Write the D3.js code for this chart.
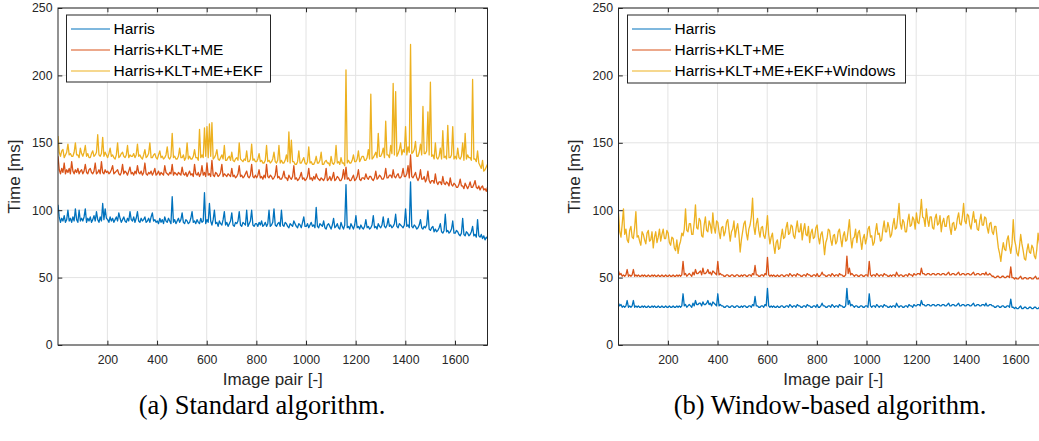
<!DOCTYPE html>
<html>
<head>
<meta charset="utf-8">
<script src="https://cdn.jsdelivr.net/npm/d3@7"></script>
<style>
  body { margin: 0; background: #fff; }
  svg { display: block; }
</style>
</head>
<body>
<svg id="fig" width="1039" height="441"></svg>
<script>
// Image pair index for every sample (one sample every 5 pairs)
const pairIndex = d3.range(347).map(i => 1 + 5 * i);
const xTicks = [200, 400, 600, 800, 1000, 1200, 1400, 1600];
const yTicks = [0, 50, 100, 150, 200, 250];

// (a) Standard algorithm, processing time per image pair [ms]
const stdHarris = [
  104, 95, 91, 94, 92, 96, 91, 93, 100, 92, 94, 91, 95, 92, 101, 93, 91, 100, 92, 94,
  92, 95, 101, 91, 94, 92, 95, 91, 93, 96, 92, 99, 93, 91, 95, 92, 105, 93, 101, 94,
  93, 91, 95, 92, 94, 91, 93, 95, 92, 98, 94, 91, 93, 95, 92, 91, 94, 92, 99, 93,
  92, 95, 91, 94, 99, 92, 91, 94, 92, 93, 95, 91, 92, 94, 91, 95, 98, 92, 93, 91,
  92, 90, 94, 91, 93, 90, 95, 92, 91, 94, 92, 90, 110, 91, 93, 90, 92, 94, 91, 93,
  98, 91, 90, 93, 92, 90, 91, 94, 99, 91, 92, 90, 93, 91, 90, 94, 91, 92, 113, 90,
  93, 91, 105, 92, 89, 93, 100, 90, 91, 88, 92, 90, 89, 93, 99, 89, 91, 88, 90, 92,
  98, 89, 88, 91, 90, 92, 99, 89, 88, 91, 90, 89, 100, 88, 90, 92, 100, 89, 88, 90,
  90, 88, 91, 89, 92, 88, 89, 91, 88, 90, 100, 88, 89, 91, 101, 89, 88, 90, 91, 88,
  100, 89, 88, 91, 90, 88, 87, 90, 89, 88, 92, 90, 88, 87, 90, 89, 87, 91, 95, 88,
  88, 90, 87, 89, 91, 88, 89, 87, 102, 88, 87, 90, 89, 88, 92, 87, 86, 89, 90, 88,
  86, 89, 94, 87, 88, 90, 87, 86, 91, 88, 86, 89, 119, 87, 88, 86, 90, 88, 86, 89,
  96, 87, 88, 86, 89, 87, 86, 88, 93, 87, 88, 86, 87, 89, 96, 87, 88, 86, 90, 88,
  87, 89, 95, 88, 87, 89, 94, 88, 89, 87, 88, 90, 97, 88, 87, 90, 89, 88, 87, 89,
  101, 88, 89, 87, 121, 88, 87, 89, 88, 86, 87, 89, 93, 87, 86, 88, 87, 89, 100, 86,
  85, 87, 88, 84, 86, 84, 85, 87, 90, 84, 83, 85, 97, 84, 85, 83, 84, 86, 92, 83,
  83, 85, 84, 82, 81, 83, 94, 82, 81, 84, 83, 81, 82, 84, 88, 81, 82, 80, 93, 81,
  80, 82, 79, 81, 78, 80, 79
];
const stdKltMe = [
  140, 130, 127, 131, 128, 135, 127, 130, 128, 131, 127, 136, 129, 127, 130, 128, 131, 127, 129, 130,
  127, 129, 134, 128, 127, 130, 131, 128, 127, 129, 135, 127, 128, 130, 127, 136, 128, 127, 130, 128,
  129, 127, 128, 130, 133, 127, 128, 129, 130, 127, 126, 128, 134, 127, 129, 128, 126, 129, 132, 127,
  128, 126, 129, 127, 133, 128, 127, 129, 126, 128, 135, 127, 126, 128, 127, 129, 126, 128, 131, 126,
  127, 129, 126, 128, 127, 126, 133, 128, 127, 126, 128, 127, 134, 126, 128, 127, 126, 128, 127, 126,
  132, 127, 126, 128, 125, 127, 129, 126, 127, 125, 134, 127, 126, 128, 125, 127, 133, 126, 128, 125,
  135, 126, 127, 125, 137, 126, 125, 128, 127, 125, 126, 128, 134, 125, 127, 126, 125, 127, 126, 125,
  131, 125, 126, 124, 125, 127, 133, 125, 126, 124, 125, 127, 129, 125, 124, 126, 134, 125, 124, 126,
  124, 126, 130, 124, 125, 123, 126, 124, 134, 125, 124, 126, 125, 123, 124, 126, 133, 124, 125, 123,
  123, 125, 129, 124, 124, 122, 126, 124, 123, 125, 133, 123, 124, 122, 123, 125, 128, 123, 124, 122,
  123, 125, 131, 123, 124, 122, 125, 123, 127, 124, 123, 122, 124, 123, 122, 124, 131, 122, 123, 125,
  122, 124, 128, 122, 123, 125, 124, 122, 122, 124, 130, 123, 132, 123, 124, 122, 122, 124, 126, 122,
  123, 125, 130, 123, 122, 124, 124, 123, 127, 124, 123, 125, 125, 123, 122, 124, 129, 123, 124, 126,
  125, 123, 123, 125, 131, 124, 124, 126, 126, 124, 130, 125, 124, 126, 127, 124, 124, 126, 131, 125,
  125, 127, 133, 124, 141, 125, 124, 126, 128, 124, 122, 124, 130, 123, 123, 125, 121, 123, 129, 122,
  120, 122, 122, 120, 127, 121, 119, 121, 121, 119, 125, 120, 119, 121, 120, 118, 124, 119, 118, 120,
  119, 117, 117, 119, 123, 118, 118, 116, 120, 118, 116, 118, 121, 117, 117, 119, 122, 117, 116, 118,
  115, 117, 118, 115, 116, 114, 117
];
const stdKltMeEkf = [
  155, 143, 140, 144, 145, 139, 141, 143, 149, 141, 142, 140, 140, 143, 150, 141, 141, 139, 146, 142,
  140, 143, 148, 140, 142, 139, 139, 142, 144, 140, 141, 143, 156, 141, 140, 142, 154, 140, 143, 141,
  139, 142, 146, 140, 141, 139, 138, 141, 150, 139, 140, 142, 143, 140, 139, 141, 148, 139, 141, 140,
  140, 142, 139, 141, 149, 140, 141, 139, 138, 141, 145, 139, 140, 142, 150, 139, 139, 141, 142, 139,
  138, 141, 144, 139, 140, 138, 139, 141, 147, 139, 138, 140, 157, 139, 140, 138, 138, 140, 146, 139,
  139, 141, 137, 139, 150, 138, 140, 138, 138, 140, 145, 139, 139, 137, 160, 139, 141, 139, 161, 140,
  162, 139, 164, 140, 165, 138, 139, 141, 145, 138, 137, 139, 141, 138, 148, 137, 137, 139, 140, 137,
  143, 137, 136, 138, 139, 137, 150, 138, 137, 136, 138, 137, 144, 136, 136, 138, 149, 137, 138, 136,
  136, 138, 142, 136, 137, 135, 135, 137, 148, 136, 137, 135, 136, 138, 143, 136, 135, 137, 148, 135,
  137, 135, 135, 137, 141, 136, 158, 135, 152, 136, 136, 134, 134, 136, 144, 135, 135, 137, 139, 135,
  134, 136, 147, 135, 136, 134, 134, 136, 140, 135, 135, 137, 143, 134, 134, 136, 137, 135, 135, 133,
  140, 135, 134, 136, 148, 135, 136, 134, 139, 135, 135, 133, 204, 135, 137, 135, 135, 137, 141, 136,
  136, 138, 144, 136, 138, 140, 140, 137, 137, 139, 145, 138, 186, 138, 139, 141, 143, 139, 157, 140,
  140, 142, 146, 139, 166, 141, 141, 139, 148, 142, 194, 141, 188, 140, 142, 145, 150, 141, 145, 143,
  162, 141, 147, 143, 223, 142, 143, 145, 151, 140, 140, 143, 149, 141, 177, 142, 142, 144, 173, 141,
  195, 140, 141, 138, 150, 139, 138, 140, 146, 138, 159, 139, 140, 138, 163, 139, 139, 141, 162, 138,
  140, 138, 146, 139, 138, 140, 150, 137, 157, 138, 141, 139, 139, 137, 197, 138, 138, 136, 144, 135,
  133, 131, 137, 129, 130, 132, 134
];

// (b) Window-based algorithm, processing time per image pair [ms]
const winHarris = [
  31, 29, 30, 28, 29, 28, 29, 33, 28, 29, 28, 29, 33, 28, 29, 28, 29, 28, 28, 29,
  28, 29, 28, 28, 29, 28, 28, 29, 28, 29, 28, 28, 29, 28, 28, 29, 28, 28, 29, 28,
  28, 29, 28, 28, 29, 28, 28, 29, 28, 29, 28, 29, 38, 29, 30, 28, 29, 30, 29, 28,
  31, 29, 33, 30, 30, 31, 31, 29, 32, 30, 30, 31, 33, 30, 31, 29, 32, 31, 30, 29,
  38, 29, 30, 29, 29, 28, 28, 29, 29, 28, 28, 29, 29, 28, 28, 29, 29, 28, 28, 29,
  28, 29, 29, 28, 28, 29, 29, 28, 30, 29, 36, 29, 29, 28, 28, 29, 29, 28, 30, 29,
  42, 29, 28, 29, 28, 29, 28, 28, 29, 28, 28, 29, 29, 28, 28, 29, 29, 28, 30, 29,
  28, 29, 29, 28, 30, 29, 29, 28, 28, 29, 29, 28, 30, 29, 29, 28, 28, 29, 29, 28,
  30, 28, 28, 29, 31, 29, 29, 28, 28, 29, 29, 28, 30, 29, 28, 29, 29, 28, 30, 29,
  29, 28, 28, 29, 42, 30, 33, 29, 30, 29, 28, 29, 29, 28, 28, 29, 29, 28, 28, 29,
  29, 28, 38, 29, 28, 29, 29, 28, 30, 29, 28, 29, 29, 28, 30, 29, 29, 28, 28, 29,
  28, 29, 29, 28, 31, 29, 28, 29, 29, 28, 28, 29, 29, 28, 30, 29, 29, 28, 30, 29,
  29, 30, 30, 29, 33, 30, 30, 29, 29, 30, 30, 29, 29, 30, 30, 29, 29, 30, 30, 29,
  29, 30, 30, 29, 29, 30, 31, 29, 29, 30, 30, 29, 29, 30, 31, 29, 29, 30, 30, 29,
  29, 30, 30, 29, 29, 30, 31, 29, 29, 30, 30, 29, 29, 30, 30, 29, 31, 29, 29, 30,
  30, 29, 29, 28, 28, 29, 29, 28, 28, 29, 29, 28, 28, 29, 29, 28, 34, 28, 28, 27,
  28, 27, 27, 28, 29, 27, 27, 28, 28, 27, 27, 28, 28, 27, 27, 28, 28, 27, 27, 28,
  28, 27, 27, 28, 28, 27, 27
];
const winKltMe = [
  55, 52, 53, 51, 52, 51, 52, 56, 51, 52, 51, 52, 56, 51, 52, 51, 52, 51, 51, 52,
  51, 52, 51, 51, 52, 51, 51, 52, 51, 52, 51, 51, 52, 51, 51, 52, 51, 51, 52, 51,
  51, 52, 51, 51, 52, 51, 51, 52, 51, 52, 51, 52, 62, 52, 53, 51, 52, 53, 52, 51,
  54, 52, 56, 53, 53, 54, 55, 52, 57, 53, 53, 54, 56, 53, 54, 52, 55, 54, 53, 52,
  62, 52, 53, 52, 52, 51, 51, 52, 52, 51, 51, 52, 52, 51, 51, 52, 52, 51, 51, 52,
  51, 52, 52, 51, 51, 52, 52, 51, 53, 52, 59, 52, 52, 51, 51, 52, 52, 51, 53, 52,
  65, 52, 51, 52, 51, 52, 51, 51, 52, 51, 51, 52, 52, 51, 51, 52, 52, 51, 53, 52,
  51, 52, 52, 51, 53, 52, 52, 51, 51, 52, 52, 51, 53, 52, 52, 51, 51, 52, 52, 51,
  53, 51, 51, 52, 54, 52, 52, 51, 51, 52, 52, 51, 53, 52, 51, 52, 52, 51, 53, 52,
  52, 51, 51, 52, 66, 53, 57, 52, 53, 52, 51, 52, 52, 51, 51, 52, 52, 51, 51, 52,
  52, 51, 62, 52, 51, 52, 52, 51, 53, 52, 51, 52, 52, 51, 53, 52, 52, 51, 51, 52,
  51, 52, 52, 51, 54, 52, 51, 52, 52, 51, 51, 52, 52, 51, 53, 52, 52, 51, 53, 52,
  52, 53, 53, 52, 57, 53, 53, 52, 52, 53, 53, 52, 52, 53, 53, 52, 52, 53, 53, 52,
  52, 53, 53, 52, 52, 53, 54, 52, 52, 53, 53, 52, 52, 53, 54, 52, 52, 53, 53, 52,
  52, 53, 53, 52, 52, 53, 54, 52, 52, 53, 53, 52, 52, 53, 53, 52, 54, 52, 52, 53,
  52, 51, 51, 50, 50, 51, 51, 50, 50, 51, 51, 50, 50, 51, 51, 50, 58, 50, 50, 49,
  50, 49, 49, 50, 51, 49, 49, 50, 50, 49, 49, 50, 50, 49, 49, 50, 51, 49, 49, 50,
  50, 49, 49, 50, 50, 49, 49
];
const winKltMeEkf = [
  98, 84, 80, 90, 101, 82, 86, 78, 76, 85, 88, 80, 79, 87, 99, 80, 81, 77, 74, 84,
  82, 78, 75, 83, 85, 77, 78, 84, 72, 80, 84, 76, 80, 86, 77, 82, 86, 79, 79, 85,
  83, 76, 74, 80, 79, 72, 70, 78, 68, 74, 77, 83, 81, 86, 101, 85, 84, 90, 90, 82,
  82, 91, 104, 87, 86, 94, 92, 81, 80, 89, 95, 85, 84, 92, 89, 83, 98, 87, 83, 92,
  91, 84, 79, 87, 88, 81, 84, 91, 93, 85, 77, 84, 86, 92, 80, 86, 90, 82, 69, 78,
  84, 90, 92, 83, 78, 86, 89, 95, 109, 88, 82, 90, 94, 85, 80, 87, 88, 81, 79, 86,
  96, 82, 75, 80, 83, 74, 68, 76, 78, 71, 72, 80, 86, 79, 80, 87, 91, 82, 83, 89,
  88, 81, 79, 86, 92, 84, 84, 90, 78, 85, 90, 82, 81, 88, 76, 83, 86, 79, 80, 87,
  89, 80, 75, 82, 84, 77, 67, 76, 79, 86, 85, 78, 74, 81, 82, 75, 77, 84, 86, 79,
  73, 81, 84, 77, 78, 85, 93, 80, 72, 79, 80, 86, 76, 83, 85, 78, 71, 79, 82, 75,
  79, 86, 88, 80, 81, 74, 76, 84, 90, 82, 83, 77, 78, 86, 92, 84, 84, 91, 87, 80,
  82, 89, 94, 86, 87, 95, 105, 90, 86, 93, 91, 84, 84, 92, 97, 88, 89, 95, 93, 86,
  98, 91, 90, 97, 108, 95, 94, 88, 101, 93, 88, 95, 95, 87, 86, 94, 97, 89, 90, 96,
  84, 91, 94, 88, 88, 95, 96, 87, 82, 90, 91, 85, 87, 94, 98, 90, 89, 95, 105, 92,
  90, 97, 96, 89, 86, 93, 99, 91, 93, 86, 85, 92, 97, 89, 89, 95, 94, 87, 83, 90,
  91, 84, 82, 88, 88, 80, 72, 68, 62, 70, 76, 71, 70, 78, 81, 73, 68, 75, 93, 78,
  74, 68, 66, 73, 82, 75, 70, 64, 63, 70, 75, 69, 68, 74, 72, 66, 64, 71, 83, 76,
  70, 76, 76, 69, 68, 73, 73
];

const seriesColors = ["#0072BD", "#D95319", "#EDB120"];
const sans = "'Liberation Sans', Arial, Helvetica, sans-serif";
const serif = "'Liberation Serif', 'Times New Roman', Times, serif";
const ink = "#262626";

const panels = [
  {
    id: "a",
    x0: 58, x1: 487.5,
    series: [stdHarris, stdKltMe, stdKltMeEkf],
    names: ["Harris", "Harris+KLT+ME", "Harris+KLT+ME+EKF"],
    legend: { x: 66.5, y: 15, w: 204, h: 67 },
    caption: "(a) Standard algorithm.",
    captionX: 262
  },
  {
    id: "b",
    x0: 618.5, x1: 1048,
    series: [winHarris, winKltMe, winKltMeEkf],
    names: ["Harris", "Harris+KLT+ME", "Harris+KLT+ME+EKF+Windows"],
    legend: { x: 627.5, y: 15, w: 278, h: 68 },
    caption: "(b) Window-based algorithm.",
    captionX: 830
  }
];

const yTop = 8, yBottom = 345, tickLen = 4.3;
const svg = d3.select("#fig");

panels.forEach(p => {
  const x = d3.scaleLinear().domain([1, 1731]).range([p.x0, p.x1]);
  const y = d3.scaleLinear().domain([0, 250]).range([yBottom, yTop]);
  const g = svg.append("g");

  g.append("clipPath").attr("id", "clip-" + p.id)
    .append("rect")
    .attr("x", p.x0).attr("y", yTop)
    .attr("width", p.x1 - p.x0).attr("height", yBottom - yTop);

  // grid
  const grid = g.append("g").attr("stroke", "#e3e3e3").attr("stroke-width", 1);
  grid.selectAll("line.gx").data(xTicks).join("line")
    .attr("x1", d => x(d)).attr("x2", d => x(d))
    .attr("y1", yTop).attr("y2", yBottom);
  grid.selectAll("line.gy").data(yTicks).join("line")
    .attr("x1", p.x0).attr("x2", p.x1)
    .attr("y1", d => y(d)).attr("y2", d => y(d));

  // time series
  const line = d3.line().x((d, i) => x(pairIndex[i])).y(d => y(d));
  const lines = g.append("g").attr("clip-path", `url(#clip-${p.id})`);
  p.series.forEach((s, k) => {
    lines.append("path")
      .datum(s)
      .attr("fill", "none")
      .attr("stroke", seriesColors[k])
      .attr("stroke-width", 1.3)
      .attr("stroke-linejoin", "round")
      .attr("d", line);
  });

  // axes with inward ticks on all four sides
  const styleAxis = sel => {
    sel.select(".domain").remove();
    sel.selectAll(".tick line").attr("stroke", ink);
    sel.selectAll("text").attr("fill", ink)
      .style("font-family", sans).style("font-size", "12.3px");
  };
  g.append("g").attr("transform", `translate(0,${yBottom})`)
    .call(d3.axisBottom(x).tickValues(xTicks).tickFormat(d3.format("d"))
      .tickSize(-tickLen).tickPadding(10))
    .call(styleAxis);
  g.append("g").attr("transform", `translate(0,${yTop})`)
    .call(d3.axisTop(x).tickValues(xTicks).tickSize(-tickLen).tickFormat(""))
    .call(styleAxis);
  g.append("g").attr("transform", `translate(${p.x0},0)`)
    .call(d3.axisLeft(y).tickValues(yTicks).tickFormat(d3.format("d"))
      .tickSize(-tickLen).tickPadding(5.5))
    .call(styleAxis);
  g.append("g").attr("transform", `translate(${p.x1},0)`)
    .call(d3.axisRight(y).tickValues(yTicks).tickSize(-tickLen).tickFormat(""))
    .call(styleAxis);

  // box
  g.append("rect")
    .attr("x", p.x0).attr("y", yTop)
    .attr("width", p.x1 - p.x0).attr("height", yBottom - yTop)
    .attr("fill", "none").attr("stroke", ink).attr("stroke-width", 1);

  // axis labels
  g.append("text")
    .attr("x", (p.x0 + p.x1) / 2)
    .attr("y", 385)
    .attr("text-anchor", "middle")
    .attr("fill", ink)
    .style("font-family", sans).style("font-size", "17px")
    .text("Image pair [-]");
  g.append("text")
    .attr("transform", `translate(${p.x0 - 38.5},${(yTop + yBottom) / 2}) rotate(-90)`)
    .attr("text-anchor", "middle")
    .attr("fill", ink)
    .style("font-family", sans).style("font-size", "17px")
    .text("Time [ms]");

  // legend
  const L = p.legend;
  const lg = g.append("g");
  lg.append("rect")
    .attr("x", L.x).attr("y", L.y).attr("width", L.w).attr("height", L.h)
    .attr("fill", "#fff").attr("stroke", ink).attr("stroke-width", 1);
  p.names.forEach((name, k) => {
    const cy = L.y + 14 + k * 21;
    lg.append("line")
      .attr("x1", L.x + 4.5).attr("x2", L.x + 43.5)
      .attr("y1", cy).attr("y2", cy)
      .attr("stroke", seriesColors[k]).attr("stroke-width", 1.2);
    lg.append("text")
      .attr("x", L.x + 47).attr("y", cy)
      .attr("dy", "0.35em")
      .attr("fill", "#000")
      .style("font-family", sans).style("font-size", "15.5px")
      .text(name);
  });

  // caption
  svg.append("text")
    .attr("x", p.captionX).attr("y", 414)
    .attr("text-anchor", "middle")
    .attr("fill", "#000")
    .style("font-family", serif).style("font-size", "26.5px")
    .text(p.caption);
});
</script>
</body>
</html>
